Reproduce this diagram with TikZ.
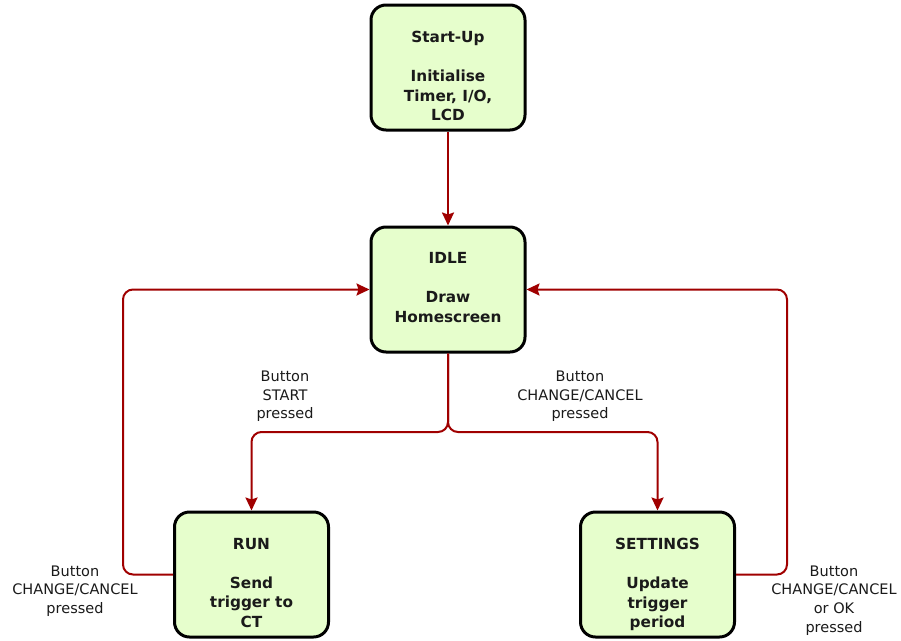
\documentclass[tikz,border=0pt]{standalone}
\usepackage{fontspec}
\setmainfont{DejaVu Sans}
\usetikzlibrary{arrows.meta}
\definecolor{boxfill}{HTML}{E6FECC}
\definecolor{arrowred}{HTML}{A00000}
\definecolor{txt}{HTML}{1A1A1A}
\begin{document}
\begin{tikzpicture}[x=1pt,y=-1pt,
  state/.style={draw=black, line width=3pt, rounded corners=15pt, fill=boxfill,
    minimum width=154pt, minimum height=125pt, inner sep=0pt},
  statetext/.style={font=\fontsize{15.3}{19.5}\selectfont\bfseries, align=center,
    inner sep=0pt, text=txt, anchor=north},
  conn/.style={draw=arrowred, line width=2pt, rounded corners=10pt,
    -{Stealth[length=13pt,width=12pt,inset=2pt]}},
  lbl/.style={font=\fontsize{14.5}{18.7}\selectfont, align=center, inner sep=0pt, text=txt}]
\useasboundingbox (0,0) rectangle (901,640);

% states
\node[state] (start) at (448,67.5) {};
\node[state] (idle) at (448,289.5) {};
\node[state] (run) at (251.5,574.5) {};
\node[state] (settings) at (657.5,574.5) {};

\node[statetext] (startT) at (448,31) {Start-Up\\[19.5pt]Initialise\\Timer, I/O,\\LCD};
\node[statetext] (idleT) at (448,252.5) {IDLE\\[19.5pt]Draw\\Homescreen};
\node[statetext] (runT) at (251.5,538) {RUN\\[19.5pt]Send\\trigger to\\CT};
\node[statetext] (settingsT) at (657.5,538) {SETTINGS\\[19.5pt]Update\\trigger\\period};

% helper coordinates
\coordinate (split) at (448,432);
\coordinate (lcol) at (123,0);
\coordinate (rcol) at (787,0);

% connectors
\draw[conn] (start.south) -- (idle.north);
\draw[conn] (idle.south) -- (split) -| (run.north);
\draw[conn] (idle.south) -- (split) -| (settings.north);
\draw[conn] (run.west) -- (run.west -| lcol) -- (idle.west -| lcol) -- (idle.west);
\draw[conn] (settings.east) -- (settings.east -| rcol) -- (idle.east -| rcol) -- (idle.east);

% labels
\node[lbl] (lstart) at (285,396.5) {Button\\START\\pressed};
\node[lbl] (lchange) at (580,396.5) {Button\\CHANGE/CANCEL\\pressed};
\node[lbl] (lrun) at (75,591) {Button\\CHANGE/CANCEL\\pressed};
\node[lbl] (lset) at (834,600.5) {Button\\CHANGE/CANCEL\\or OK\\pressed};
\end{tikzpicture}
\end{document}
